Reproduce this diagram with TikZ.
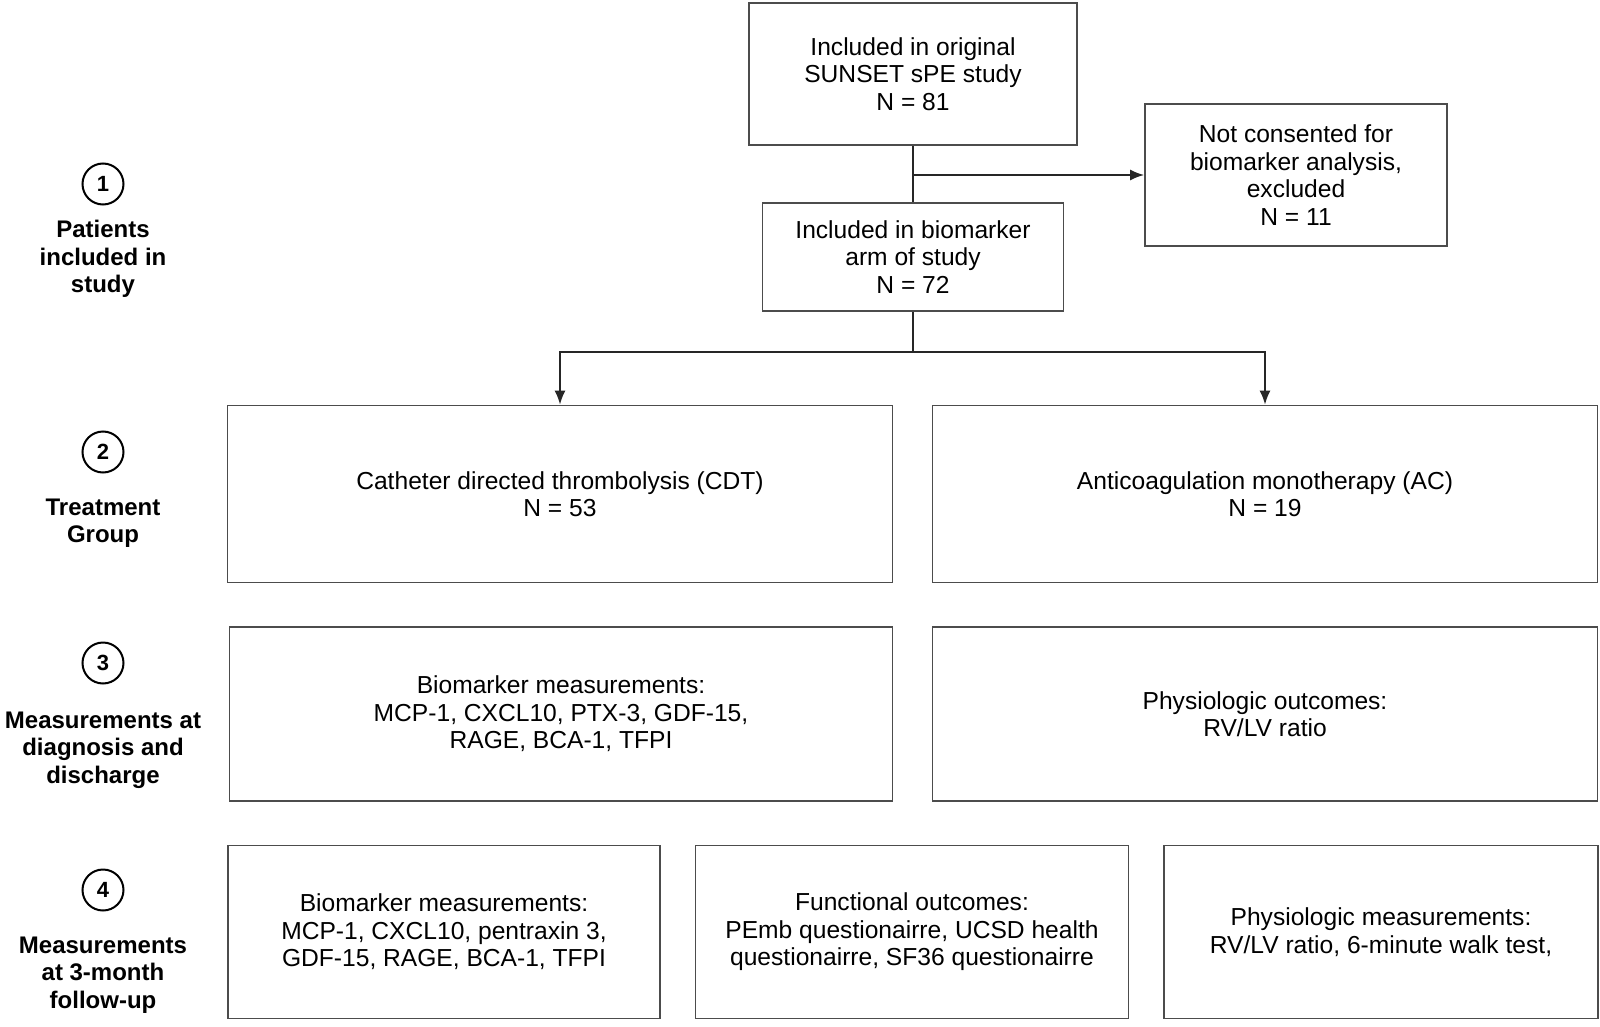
\documentclass[tikz,border=0pt]{standalone}
\usepackage{fontspec}
\setmainfont{Liberation Sans}
\usetikzlibrary{arrows.meta}
\tikzset{
    flowbox/.style={draw=black!70,line width=1.6pt,align=center,inner sep=0pt,
        font=\fontsize{24.6}{27.5}\selectfont},
    stagenum/.style={draw,circle,line width=2pt,minimum size=41pt,inner sep=0pt,
        font=\bfseries\fontsize{22}{24}\selectfont},
    stagelbl/.style={align=center,font=\bfseries\fontsize{24}{27.5}\selectfont},
    link/.style={line width=2pt,black!85},
    arr/.style={link,-{Latex[length=14pt,width=11pt]}}
}
\begin{document}
\begin{tikzpicture}[x=1pt,y=-1pt]
    \useasboundingbox (0,0) rectangle (1600,1027);
    % stages on the left
    \foreach \i/\y in {1/184,2/452,3/663,4/890}
        \node[stagenum] (num\i) at (103,\y) {\i};
    \node[stagelbl] (lab1) at (103,259) {Patients\\included in\\study};
    \node[stagelbl] (lab2) at (103,523) {Treatment\\Group};
    \node[stagelbl] (lab3) at (103,750) {Measurements at\\diagnosis and\\discharge};
    \node[stagelbl] (lab4) at (103,975) {Measurements\\at 3-month\\follow-up};
    % enrolment
    \node[flowbox,minimum width=328pt,minimum height=142pt] (orig) at (913,74)
        {Included in original\\SUNSET sPE study\\N = 81};
    \node[flowbox,minimum width=301pt,minimum height=108pt] (bio) at (913,257)
        {Included in biomarker\\arm of study\\N = 72};
    \node[flowbox,minimum width=302pt,minimum height=142pt] (excl) at (1296,175)
        {Not consented for\\biomarker analysis,\\excluded\\N = 11};
    % treatment groups
    \node[flowbox,minimum width=665pt,minimum height=177pt] (cdt) at (560,494)
        {Catheter directed thrombolysis (CDT)\\N = 53};
    \node[flowbox,minimum width=665pt,minimum height=177pt] (ac) at (1265,494)
        {Anticoagulation monotherapy (AC)\\N = 19};
    % measurements at diagnosis and discharge
    \node[flowbox,minimum width=663pt,minimum height=174pt] (diagbio) at (561,714)
        {Biomarker measurements:\\MCP-1, CXCL10, PTX-3, GDF-15,\\RAGE, BCA-1, TFPI};
    \node[flowbox,minimum width=665pt,minimum height=174pt] (diagphys) at (1265,714)
        {Physiologic outcomes:\\RV/LV ratio};
    % measurements at follow-up
    \node[flowbox,minimum width=432pt,minimum height=173pt] (fubio) at (444,932)
        {Biomarker measurements:\\MCP-1, CXCL10, pentraxin 3,\\GDF-15, RAGE, BCA-1, TFPI};
    \node[flowbox,minimum width=433pt,minimum height=173pt] (fufunc) at (912,932)
        {Functional outcomes:\\PEmb questionairre, UCSD health\\questionairre, SF36 questionairre};
    \node[flowbox,minimum width=434pt,minimum height=173pt] (fuphys) at (1381,932)
        {Physiologic measurements:\\RV/LV ratio, 6-minute walk test,};
    % connectors
    \coordinate (split) at (913,175);
    \coordinate (fork) at (913,352);
    \draw[link] (orig) -- (bio);
    \draw[arr] (split) -- (excl);
    \draw[link] (bio) -- (fork);
    \draw[arr] (fork) -| (cdt);
    \draw[arr] (fork) -| (ac);
\end{tikzpicture}
\end{document}
